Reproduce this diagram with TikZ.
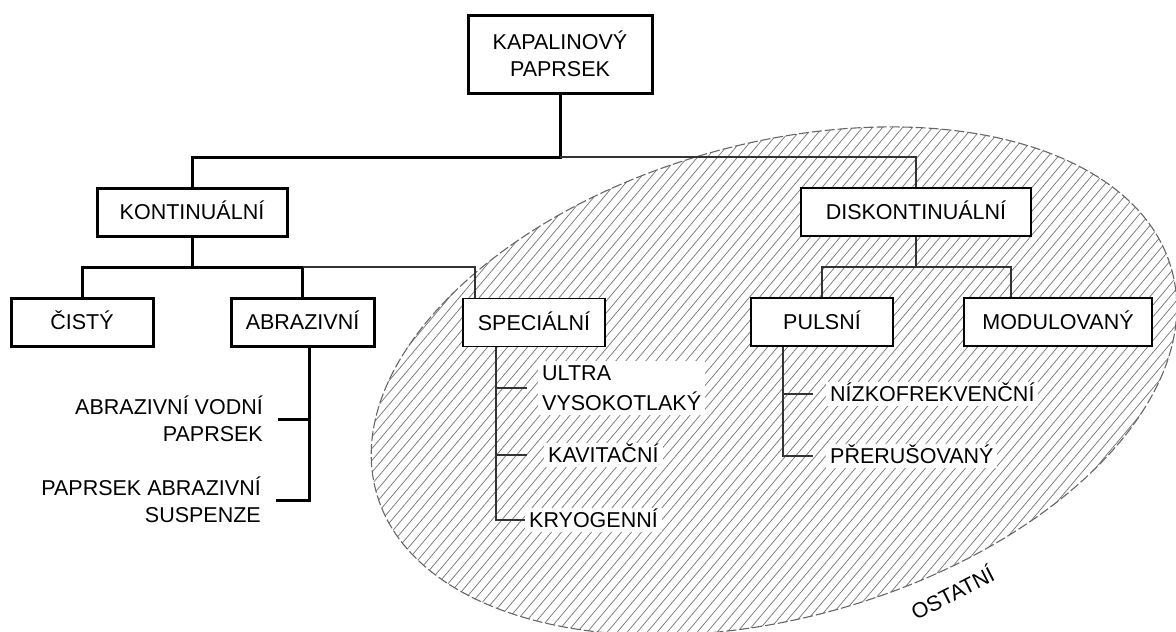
\documentclass[tikz,border=0pt]{standalone}
\usepackage{fontspec}
\setmainfont{Liberation Sans}

\begin{document}
\begin{tikzpicture}[x=1pt,y=-1pt,
  every node/.style={font=\fontsize{21.5}{27}\selectfont},
  thickbox/.style={draw,line width=3pt,fill=white,minimum height=48pt,inner sep=0pt,text height=15.5pt,text depth=0pt},
  thinbox/.style={draw,line width=1.4pt,fill=white,minimum height=48pt,inner sep=0pt,text height=15.5pt,text depth=0pt},
  leaf/.style={fill=white,inner sep=4pt,anchor=west,text height=15.5pt,text depth=0pt},
  thickline/.style={line width=3pt},
  thinline/.style={line width=1.3pt,black!80},
  hatch/.style={black!55,line width=0.7pt},
  rim/.style={black!60,line width=1.1pt,dash pattern=on 10pt off 3pt}]

  \useasboundingbox (0,0) rectangle (1176,632);

  % Ostatni (srafovana elipsa)
  \begin{scope}
    \clip[rotate around={15.7:(774,381)}] (774,381) ellipse [x radius=413, y radius=237];
    \foreach \u in {-400,-390,...,1300}
      \draw[hatch] (\u,700) -- ++(590,-700);
  \end{scope}
  \draw[rim,rotate around={15.7:(774,381)}] (774,381) ellipse [x radius=413, y radius=237];
  \node[rotate=27] (ost) at (952,592) {OSTATNÍ};

  % Koren
  \node[thickbox,minimum width=184pt,minimum height=78pt,align=center,text height=,text depth=] (kap) at (560,54) {KAPALINOVÝ\\PAPRSEK};

  % Kontinualni vetev
  \node[thickbox,minimum width=190pt] (kont) at (192,212) {KONTINUÁLNÍ};
  \node[thickbox,minimum width=142pt] (cisty) at (82,322) {ČISTÝ};
  \node[thickbox,minimum width=143pt] (abraz) at (302.5,322) {ABRAZIVNÍ};
  \node[anchor=east,align=right,inner sep=0pt] (vodni) at (263,419) {ABRAZIVNÍ VODNÍ\\PAPRSEK};
  \node[anchor=east,align=right,inner sep=0pt] (susp) at (261,500) {PAPRSEK ABRAZIVNÍ\\SUSPENZE};

  % Diskontinualni vetev
  \node[thinbox,minimum width=230pt] (disk) at (916,212) {DISKONTINUÁLNÍ};
  \node[thinbox,minimum width=142pt] (puls) at (822,322) {PULSNÍ};
  \node[thinbox,minimum width=188pt] (modul) at (1058,322) {MODULOVANÝ};
  \node[leaf] (nizko) at (826,394) {NÍZKOFREKVENČNÍ};
  \node[leaf] (preru) at (826,456) {PŘERUŠOVANÝ};

  % Specialni
  \node[thinbox,minimum width=142pt] (spec) at (534,322.5) {SPECIÁLNÍ};
  \node[leaf,align=left,text height=,text depth=,font=\fontsize{21.5}{30.5}\selectfont] (ultra) at (538,388) {ULTRA\\VYSOKOTLAKÝ};
  \node[leaf] (kavit) at (544,455) {KAVITAČNÍ};
  \node[leaf] (kryo) at (525,520) {KRYOGENNÍ};

  % Spojnice
  \coordinate (j1) at (560,157);
  \coordinate (j2) at (192,267);
  \coordinate (j4) at (916,267);
  \draw[thickline] (kap.south) -- (j1) -| (kont.north);
  \draw[thinline] (j1) -| (disk.north);
  \draw[thickline] (kont.south) -- (j2);
  \draw[thickline] (cisty.north) |- (j2) -| (abraz.north);
  \draw[thinline] (abraz.north |- j2) -| ([xshift=-59pt]spec.north);
  \draw[thinline] (disk.south) -- (j4);
  \draw[thinline] (puls.north) |- (j4) -| ([xshift=-47pt]modul.north);

  % Listy
  \coordinate (av) at ([xshift=6.5pt]abraz.south);
  \draw[thickline] (av) |- ([xshift=15pt]susp.east);
  \draw[thickline] (vodni.east -| av) -- ([xshift=15pt]vodni.east);

  \coordinate (sv) at ([xshift=-38pt]spec.south);
  \draw[thinline] (sv) |- (kryo.west);
  \draw[thinline] (ultra.west -| sv) -- ([xshift=-11pt]ultra.west);
  \draw[thinline] (kavit.west -| sv) -- ([xshift=-17pt]kavit.west);

  \coordinate (pv) at ([xshift=-39pt]puls.south);
  \draw[thinline] (pv) |- ([xshift=-13pt]preru.west);
  \draw[thinline] (nizko.west -| pv) -- ([xshift=-13pt]nizko.west);

\end{tikzpicture}
\end{document}
